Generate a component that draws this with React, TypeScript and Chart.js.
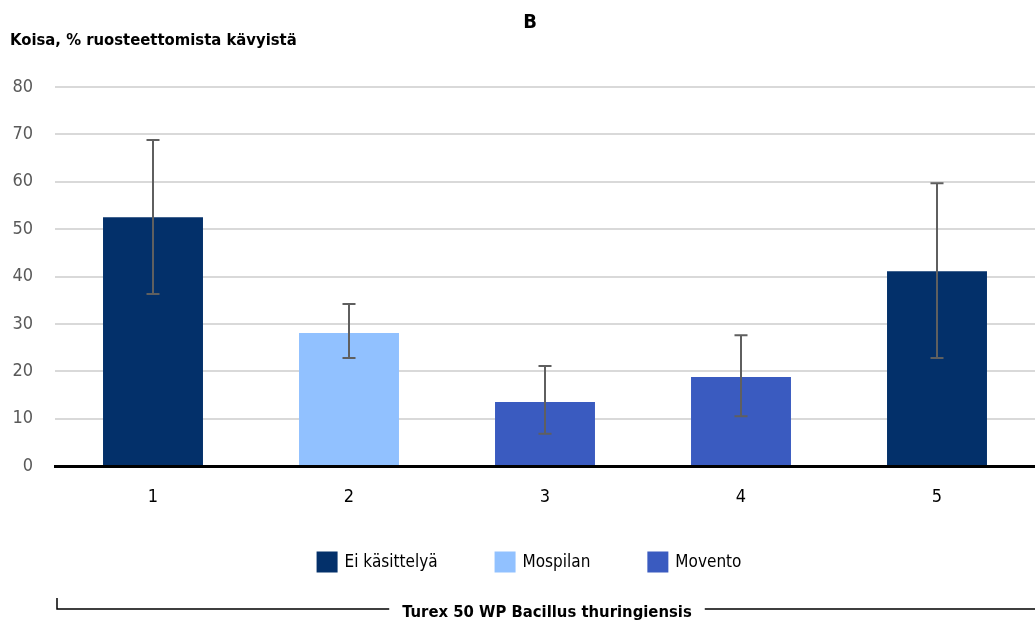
import React, { useEffect, useRef } from "react";
import { Chart, registerables } from "chart.js";

Chart.register(...registerables);

const categories = ["1", "2", "3", "4", "5"];
const seriesNames = ["Ei käsittelyä", "Mospilan", "Movento"];
const eiKasittelya = [52.5, null, null, null, 41.1];
const mospilan = [null, 28.1, null, null, null];
const movento = [null, null, 13.5, 18.8, null];
const errLow = [36.3, 22.8, 6.8, 10.5, 22.8];
const errHigh = [68.8, 34.2, 21.1, 27.6, 59.7];
const yTicks = [0, 10, 20, 30, 40, 50, 60, 70, 80];
const chartTitle = "B";
const yTitle = "Koisa, % ruosteettomista kävyistä";
const bracketLabel = "Turex 50 WP Bacillus thuringiensis";

const colors = ["#03306A", "#91C1FF", "#3A5BC0"];
const FONT = "'DejaVu Sans Condensed', 'Liberation Sans Narrow', sans-serif";

const overlay = {
  id: "overlay",
  afterDatasetsDraw(chart: any) {
    const { ctx, scales } = chart;
    const x = scales.x;
    const y = scales.y;
    ctx.save();
    ctx.strokeStyle = "#5F5F5F";
    ctx.lineWidth = 2;
    categories.forEach((_, i) => {
      const px = x.getPixelForValue(i);
      const yl = y.getPixelForValue(errLow[i]);
      const yh = y.getPixelForValue(errHigh[i]);
      ctx.beginPath();
      ctx.moveTo(px, yl);
      ctx.lineTo(px, yh);
      ctx.moveTo(px - 6.5, yl);
      ctx.lineTo(px + 6.5, yl);
      ctx.moveTo(px - 6.5, yh);
      ctx.lineTo(px + 6.5, yh);
      ctx.stroke();
    });
    ctx.restore();
  },
  afterDraw(chart: any) {
    const { ctx } = chart;
    ctx.save();
    ctx.fillStyle = "#000000";
    ctx.textBaseline = "middle";
    ctx.font = `bold 20px ${FONT}`;
    ctx.textAlign = "center";
    ctx.fillText(chartTitle, 530, 23);
    ctx.font = `bold 16.5px ${FONT}`;
    ctx.textAlign = "left";
    ctx.fillText(yTitle, 10, 41);

    // legend from datasets
    ctx.font = `17px ${FONT}`;
    const ds = chart.data.datasets;
    const box = 21;
    const gapText = 7;
    const gapItem = 57;
    const widths = ds.map((d: any) => box + gapText + ctx.measureText(d.label).width);
    const total = widths.reduce((a: number, b: number) => a + b, 0) + gapItem * (ds.length - 1);
    let lx = 529 - total / 2;
    const ly = 562;
    ds.forEach((d: any, i: number) => {
      ctx.fillStyle = d.backgroundColor;
      ctx.fillRect(lx, ly - box / 2, box, box);
      ctx.fillStyle = "#000000";
      ctx.textAlign = "left";
      ctx.fillText(d.label, lx + box + gapText, ly + 1);
      lx += widths[i] + gapItem;
    });

    // bracket
    ctx.font = `bold 16.5px ${FONT}`;
    ctx.textAlign = "center";
    const cx = 547;
    const cy = 613;
    const tw = ctx.measureText(bracketLabel).width;
    ctx.fillText(bracketLabel, cx, cy);
    ctx.strokeStyle = "#000000";
    ctx.lineWidth = 1.5;
    ctx.beginPath();
    ctx.moveTo(57, 598);
    ctx.lineTo(57, 609);
    ctx.lineTo(cx - tw / 2 - 13, 609);
    ctx.moveTo(cx + tw / 2 + 13, 609);
    ctx.lineTo(1035, 609);
    ctx.stroke();
    ctx.restore();
  },
};

export default function App() {
  const ref = useRef<HTMLCanvasElement | null>(null);
  useEffect(() => {
    document.body.style.margin = "0";
    const chart = new Chart(ref.current as HTMLCanvasElement, {
      type: "bar",
      data: {
        labels: categories,
        datasets: [eiKasittelya, mospilan, movento].map((d, i) => ({
          label: seriesNames[i],
          data: d,
          backgroundColor: colors[i],
          borderWidth: 0,
          skipNull: true,
          categoryPercentage: 1,
          barPercentage: 0.51,
        })),
      } as any,
      options: {
        animation: false,
        responsive: false,
        maintainAspectRatio: false,
        layout: { padding: { top: 87, bottom: 115, left: 0, right: 0 } },
        plugins: {
          title: { display: false },
          tooltip: { enabled: false },
          legend: { display: false },
        },
        scales: {
          x: {
            grid: { display: false, drawTicks: false },
            border: { display: true, color: "#000000", width: 3 },
            ticks: { color: "#000000", padding: 21, font: { family: FONT, size: 18 } },
            afterFit(s: any) {
              s.height = 45;
            },
          },
          y: {
            min: 0,
            max: 80,
            afterBuildTicks(s: any) {
              s.ticks = yTicks.map((v) => ({ value: v }));
            },
            afterFit(s: any) {
              s.width = 55;
            },
            grid: { color: "#D9D9D9", lineWidth: 2, drawTicks: false },
            border: { display: false },
            ticks: { color: "#595959", padding: 22, font: { family: FONT, size: 18 } },
          },
        },
      },
      plugins: [overlay],
    });
    return () => chart.destroy();
  }, []);
  return <canvas ref={ref} width={1035} height={626} style={{ display: "block" }} />;
}
